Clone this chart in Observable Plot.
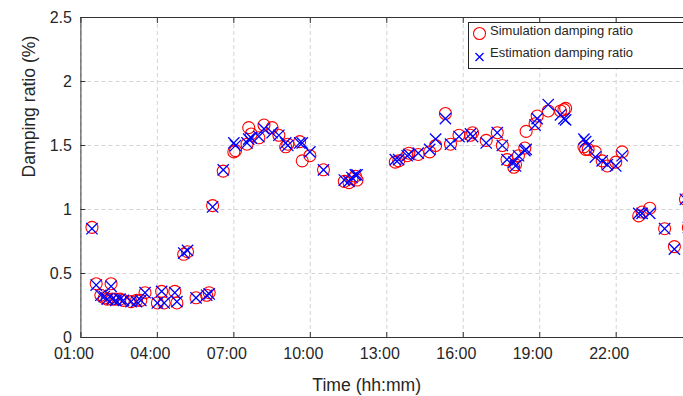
<!DOCTYPE html>
<html><head><meta charset="utf-8">
<script src="https://cdn.jsdelivr.net/npm/d3@7"></script>
<script src="https://cdn.jsdelivr.net/npm/@observablehq/plot@0.6"></script>
<style>
html,body{margin:0;padding:0;background:#fff;overflow:hidden;}
#chart svg{overflow:hidden;}
</style>
</head><body><div id="chart"></div>
<script>
const times = ["01:26","01:36","01:47","01:55","02:02","02:11","02:14","02:22","02:32","02:40",
  "02:58","03:11","03:21","03:31","04:00","04:10","04:16","04:41","04:46","05:02",
  "05:11","05:31","05:56","06:02","06:10","06:35","07:00","07:04","07:31","07:35",
  "07:41","07:59","08:11","08:30","08:46","09:02","09:07","09:35","09:41","09:59",
  "10:31","11:20","11:31","11:38","11:46","11:50","13:20","13:28","13:48","13:52",
  "14:14","14:41","14:55","15:18","15:30","15:50","16:17","16:22","16:54","17:20",
  "17:32","17:43","17:59","18:03","18:10","18:25","18:28","18:49","18:54","19:20",
  "19:49","19:57","20:01","20:44","20:48","20:54","21:11","21:27","21:39","21:59",
  "22:14","22:53","23:01","23:19","23:54","00:17","00:43","00:50"];
const simulation = [0.86,0.42,0.33,0.31,0.30,0.42,0.30,0.30,0.30,0.29,
  0.28,0.29,0.29,0.35,0.27,0.36,0.27,0.36,0.27,0.65,
  0.67,0.31,0.33,0.35,1.03,1.30,1.45,1.46,1.51,1.64,
  1.59,1.56,1.66,1.64,1.58,1.49,1.51,1.53,1.38,1.42,
  1.31,1.22,1.21,1.24,1.26,1.23,1.37,1.38,1.42,1.44,
  1.43,1.45,1.50,1.75,1.51,1.58,1.58,1.60,1.54,1.60,
  1.50,1.39,1.33,1.35,1.42,1.48,1.61,1.67,1.73,1.77,
  1.77,1.78,1.79,1.49,1.47,1.47,1.45,1.38,1.34,1.37,
  1.45,0.95,0.98,1.01,0.85,0.71,1.08,0.86];
const estimation = [0.85,0.41,0.33,0.32,0.30,0.40,0.30,0.29,0.30,0.29,
  0.28,0.28,0.29,0.35,0.27,0.36,0.27,0.35,0.28,0.66,
  0.68,0.31,0.33,0.34,1.02,1.31,1.52,1.50,1.52,1.55,
  1.56,1.57,1.63,1.60,1.58,1.52,1.50,1.52,1.52,1.45,
  1.31,1.23,1.22,1.25,1.27,1.27,1.39,1.39,1.42,1.43,
  1.44,1.47,1.55,1.71,1.51,1.57,1.59,1.57,1.52,1.60,
  1.50,1.39,1.37,1.34,1.42,1.46,1.47,1.66,1.71,1.82,
  1.74,1.71,1.70,1.55,1.53,1.50,1.41,1.38,1.35,1.34,
  1.42,0.97,0.97,0.97,0.85,0.69,1.08,0.86];
const xTicks = [1,4,7,10,13,16,19,22];
const xTickLabels = ["01:00","04:00","07:00","10:00","13:00","16:00","19:00","22:00"];
const yTicks = [0,0.5,1,1.5,2,2.5];
const yTickLabels = ["0","0.5","1","1.5","2","2.5"];
const seriesNames = ["Simulation damping ratio","Estimation damping ratio"];
const xLabel = "Time (hh:mm)";
const yLabel = "Damping ratio (%)";

function toHours(s) {
  const [hh, mm] = s.split(":").map(Number);
  let h = hh + mm / 60;
  if (h < 1) h += 24;
  return h;
}
const data = times.map((t, i) => ({h: toHours(t), sim: simulation[i], est: estimation[i]}));

const axisColor = "#333333";
const gridStyle = {stroke: "#d4d4d4", strokeOpacity: 1, strokeDasharray: "4,3"};
const font = "'Liberation Sans', Arial, Helvetica, sans-serif";

const chart = Plot.plot({
  width: 683,
  height: 396,
  marginLeft: 80.4,
  marginRight: 0,
  marginTop: 17,
  marginBottom: 59,
  style: {fontFamily: font, fontSize: "16px", color: "#262626", background: "#fff"},
  x: {domain: [1, 25], range: [80.4, 80.4 + 24 * 25.49]},
  y: {domain: [0, 2.5]},
  marks: [
    Plot.gridX(xTicks, gridStyle),
    Plot.gridY(yTicks, gridStyle),
    Plot.dot(data, {x: "h", y: "sim", r: 6, stroke: "#ff0000", fill: "none", strokeWidth: 1.1}),
    Plot.dot(data, {x: "h", y: "est", symbol: "times", r: 5.2, stroke: "#0000ff", strokeWidth: 1.3}),
    Plot.ruleY([0], {stroke: axisColor, strokeWidth: 1}),
    Plot.ruleY([2.5], {stroke: axisColor, strokeWidth: 1}),
    Plot.ruleX([1], {stroke: axisColor, strokeWidth: 1}),
    Plot.axisX(xTicks, {anchor: "bottom", tickSize: -5, stroke: axisColor, tickFormat: () => "", label: null}),
    Plot.axisX(xTicks, {anchor: "top", tickSize: -5, stroke: axisColor, tickFormat: () => "", label: null}),
    Plot.axisX(xTicks, {anchor: "bottom", tickSize: 0, tickPadding: 10, dx: -7, fill: "#262626", fontSize: 16,
      tickFormat: d => xTickLabels[xTicks.indexOf(d)], label: null}),
    Plot.axisY(yTicks, {anchor: "left", tickSize: 0, tickPadding: 9, fill: "#262626", fontSize: 16,
      tickFormat: d => yTickLabels[yTicks.indexOf(d)], label: null}),
    Plot.axisY(yTicks, {anchor: "left", tickSize: -5, stroke: axisColor, tickFormat: () => "", label: null}),
    Plot.text([xLabel], {frameAnchor: "bottom", dy: 48, dx: -15.5, fontSize: 17.6, fill: "#262626", lineAnchor: "middle"}),
    Plot.text([yLabel], {frameAnchor: "left", dx: -52, rotate: -90, fontSize: 17.6, fill: "#262626", lineAnchor: "middle"})
  ]
});
chart.style.overflow = "hidden";
document.getElementById("chart").appendChild(chart);

// legend
const svg = d3.select(chart);
const lg = svg.append("g").attr("font-family", font).attr("font-size", 13)
  .attr("fill", "#262626").attr("text-anchor", "start");
lg.append("rect").attr("x", 468.5).attr("y", 22.5).attr("width", 260).attr("height", 46)
  .attr("fill", "#fff").attr("stroke", "#262626").attr("stroke-width", 1);
lg.append("circle").attr("cx", 479.5).attr("cy", 33.5).attr("r", 6)
  .attr("fill", "none").attr("stroke", "#ff0000").attr("stroke-width", 1.1);
lg.append("path").attr("d", "M475.5,53L483.5,61M475.5,61L483.5,53")
  .attr("stroke", "#0000ff").attr("stroke-width", 1.3).attr("fill", "none");
lg.append("text").attr("x", 490).attr("y", 34.5).attr("text-anchor", "start").text(seriesNames[0]);
lg.append("text").attr("x", 490).attr("y", 56.5).attr("text-anchor", "start").text(seriesNames[1]);
</script>
</body></html>
